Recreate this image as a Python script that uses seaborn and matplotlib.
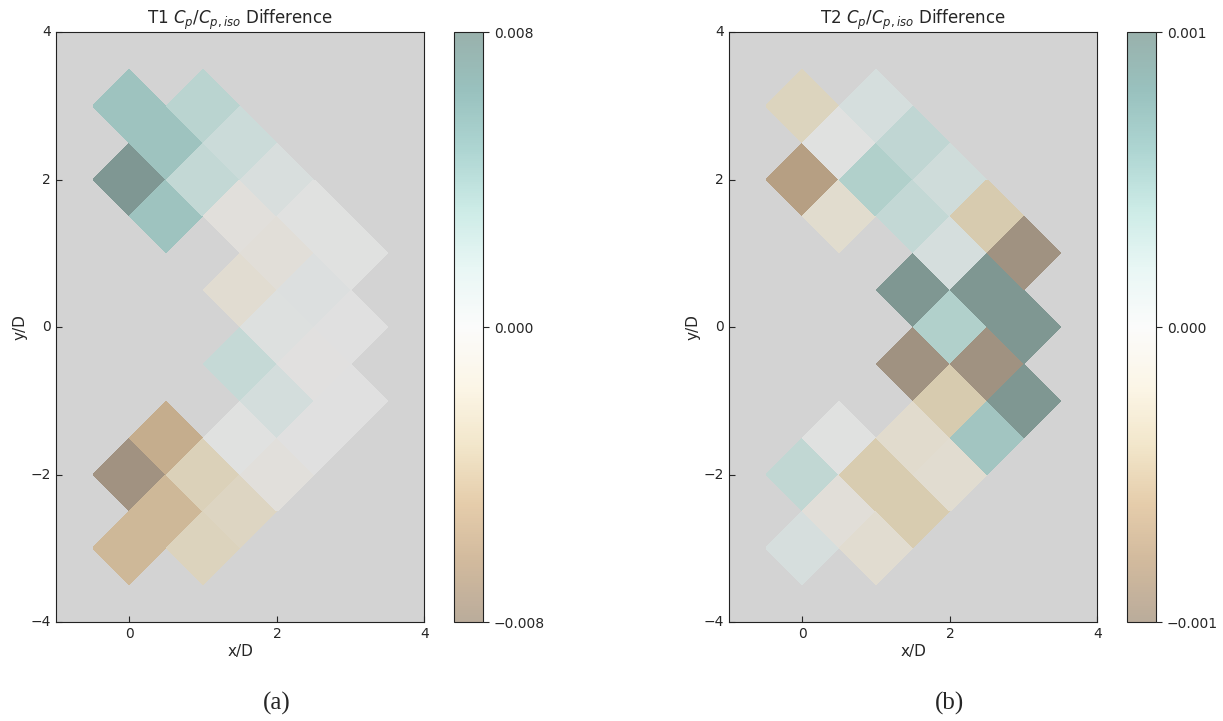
import numpy as np
import pandas as pd
import matplotlib
matplotlib.use("Agg")
import matplotlib.pyplot as plt
import matplotlib.transforms as mtransforms
from matplotlib.colors import ListedColormap, Normalize, to_rgb
from matplotlib.cm import ScalarMappable
from matplotlib.ticker import FuncFormatter
import seaborn as sns

# ── Data: cell centres (x/D, y/D) and Cp/Cp,iso differences ────────────────
cell_x = [0, 0.5, 0, 0.5, 1, 1, 1.5, 2, 1.5, 2.5, 2, 3, 1.5, 2.5, 2, 3,
          1.5, 2.5, 3, 2, 1.5, 2.5, 2, 0.5, 0, 1, 0.5, 0, 1.5, 1]
cell_y = [3, 2.5, 2, 1.5, 3, 2, 2.5, 2, 1.5, 1.5, 1, 1, 0.5, 0.5, 0, 0,
          -0.5, -0.5, -1, -1, -1.5, -1.5, -2, -1.5, -2, -2, -2.5, -3, -2.5, -3]

t1_diff = [0.0042, 0.0042, 0.0079, 0.0042, 0.0027, 0.0022, 0.0018, 0.00075,
           -0.00045, 0.0, -0.0007, 0.0, -0.0013, 0.0004, 0.0003, 0.0001,
           0.0021, -0.0001, 0.0001, 0.0012, 0.0, 0.0001, -0.0005,
           -0.0052, -0.0079, -0.0027, -0.0044, -0.0044, -0.0022, -0.0025]

t2_diff = [-0.0003, 0.0, -0.0008, -0.00018, 0.00012, 0.0004, 0.0003, 0.00019,
           0.00028, -0.00041, 0.00012, -0.001, 0.001, 0.001, 0.0004, 0.001,
           -0.001, -0.001, 0.001, -0.00041, -0.0002, 0.0005, -0.00017,
           0.0, 0.00029, -0.0004, -0.00009, 0.00011, -0.0004, -0.00017]

titles = ["T1 $C_p/C_{p,iso}$ Difference", "T2 $C_p/C_{p,iso}$ Difference"]
limits = [0.008, 0.001]
panel_tags = ["(a)", "(b)"]

# ── Style ───────────────────────────────────────────────────────────────────
sns.set_style("ticks")
plt.rcParams["font.family"] = ["DejaVu Sans"]
plt.rcParams["mathtext.fontset"] = "dejavusans"

ALPHA = 0.4
base = plt.get_cmap("BrBG")(np.linspace(0, 1, 256))[:, :3]


def faded(bg):
    # BrBG seen through 40% opacity on a given background, baked in opaque
    return ListedColormap(ALPHA * base + (1 - ALPHA) * np.array(to_rgb(bg)))


cmap_cells = faded("lightgray")
cmap_bar = faded("white")


def to_grid(xs, ys, vals):
    # cells sit on a 45-degree lattice: m = x - y, n = x + y
    m = np.rint(np.array(xs) - np.array(ys)).astype(int)
    n = np.rint(np.array(xs) + np.array(ys)).astype(int)
    grid = pd.DataFrame(np.nan, index=range(-3, 5), columns=range(-3, 5))
    for mi, ni, v in zip(m, n, vals):
        grid.loc[ni, mi] = v
    return grid


fmt = FuncFormatter(lambda v, p: f"{v:.3f}".replace("-", "\u2212"))

fig = plt.figure(figsize=(12.23, 7.21), dpi=100)
ax_left = [0.045, 0.5953]
cb_left = [0.3712, 0.9215]

for k, vals in enumerate([t1_diff, t2_diff]):
    ax = fig.add_axes([ax_left[k], 0.1373, 0.3025, 0.8183])
    cax = fig.add_axes([cb_left[k], 0.1373, 0.0240, 0.8183])
    ax.set_facecolor("lightgray")
    grid = to_grid(cell_x, cell_y, vals)
    lim = limits[k]
    sns.heatmap(grid, ax=ax, cbar=False, cmap=cmap_cells, vmin=-lim, vmax=lim,
                linewidths=0, edgecolor="none", antialiased=False)
    # map heatmap (column, row) space onto rotated x/D, y/D coordinates
    rot = mtransforms.Affine2D(np.array([[0.5, 0.5, -3.5],
                                         [-0.5, 0.5, 0.0],
                                         [0.0, 0.0, 1.0]]))
    ax.collections[0].set_transform(rot + ax.transData)

    ax.set_xlim(-1, 4)
    ax.set_ylim(-4, 4)
    ax.set_aspect("equal")
    ax.set_xticks([0, 2, 4])
    ax.set_xticklabels(["0", "2", "4"])
    ax.set_yticks([-4, -2, 0, 2, 4])
    ax.set_yticklabels(["\u22124", "\u22122", "0", "2", "4"], rotation=0)
    for s in ax.spines.values():
        s.set_visible(True)
        s.set_linewidth(0.8)
        s.set_color("#222222")
    ax.tick_params(direction="in", length=4, width=0.8, labelsize=10)
    ax.set_xlabel("x/D", fontsize=11, labelpad=2)
    ax.set_ylabel("y/D", fontsize=11, labelpad=2)
    ax.set_title(titles[k], fontsize=12, pad=4)

    sm = ScalarMappable(norm=Normalize(-lim, lim), cmap=cmap_bar)
    cb = fig.colorbar(sm, cax=cax)
    cb.set_ticks([-lim, 0, lim])
    cb.ax.yaxis.set_major_formatter(fmt)
    cb.ax.tick_params(labelsize=10, length=4, width=0.8)
    cb.outline.set_linewidth(0.8)
    cb.outline.set_edgecolor("#222222")

    fig.text(ax_left[k] + 0.181, 0.024, panel_tags[k], ha="center", va="center",
             fontsize=18, family=["Liberation Serif", "DejaVu Serif"])

fig.savefig("out.png", dpi=100)
